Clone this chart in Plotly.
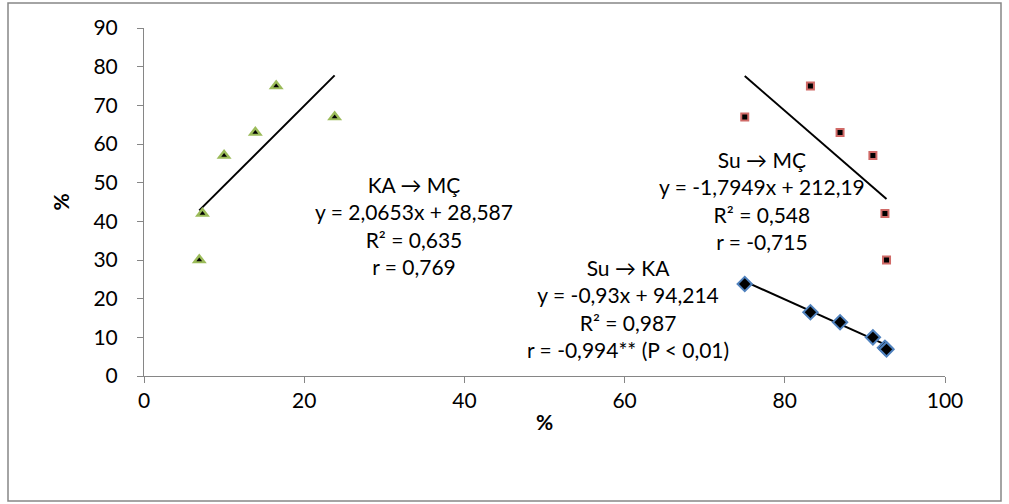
import plotly.graph_objects as go

# Data
su = [75.0, 83.2, 86.9, 91.0, 92.5, 92.7]      # Su (%)
ka = [23.8, 16.5, 13.9, 10.0, 7.3, 6.9]        # KA (%)
mc = [67, 75, 63, 57, 42, 30]                  # MÇ (%)

# Trendline coefficients (from the chart's equations)
fit_ka_mc = (2.0653, 28.587)
fit_su_mc = (-1.7949, 212.19)
fit_su_ka = (-0.93, 94.214)

x_ticks = [0, 20, 40, 60, 80, 100]
y_ticks = [0, 10, 20, 30, 40, 50, 60, 70, 80, 90]

labels = {
    "ka_mc": "KA \u2192 MÇ<br>y = 2,0653x + 28,587<br>R² = 0,635<br>r = 0,769",
    "su_mc": "Su \u2192 MÇ<br>y = -1,7949x + 212,19<br>R² = 0,548<br>r = -0,715",
    "su_ka": "Su \u2192 KA<br>y = -0,93x + 94,214<br>R² = 0,987<br>r = -0,994** (P < 0,01)",
}

FONT = "Lato, 'Open Sans', sans-serif"
GRAY = "#868686"

def line_pts(xs, fit):
    a, b = fit
    x0, x1 = min(xs), max(xs)
    return [x0, x1], [a * x0 + b, a * x1 + b]

fig = go.Figure()

# Trendlines
for xs, fit in [(ka, fit_ka_mc), (su, fit_su_mc), (su, fit_su_ka)]:
    lx, ly = line_pts(xs, fit)
    fig.add_trace(go.Scatter(x=lx, y=ly, mode="lines",
                             line=dict(color="black", width=2),
                             showlegend=False, hoverinfo="skip"))

# KA -> MÇ (green triangles)
fig.add_trace(go.Scatter(x=ka, y=mc, mode="markers", showlegend=False,
                         marker=dict(symbol="triangle-up", size=13, color="#9BBB59",
                                     line=dict(width=0))))
fig.add_trace(go.Scatter(x=ka, y=mc, mode="markers", showlegend=False,
                         marker=dict(symbol="triangle-up", size=5, color="black",
                                     line=dict(width=0))))
# Su -> MÇ (red squares)
fig.add_trace(go.Scatter(x=su, y=mc, mode="markers", showlegend=False,
                         marker=dict(symbol="square", size=7, color="black",
                                     line=dict(width=2, color="#D06A67"))))
# Su -> KA (blue diamonds)
fig.add_trace(go.Scatter(x=su, y=ka, mode="markers", showlegend=False,
                         marker=dict(symbol="diamond", size=11, color="black",
                                     line=dict(width=2, color="#4F81BD"))))

# Annotations
fig.add_annotation(x=33.7, y=39.0, text=labels["ka_mc"], showarrow=False,
                   font=dict(family=FONT, size=21, color="black"), align="center")
fig.add_annotation(x=77.1, y=45.5, text=labels["su_mc"], showarrow=False,
                   font=dict(family=FONT, size=21, color="black"), align="center")
fig.add_annotation(x=60.4, y=17.5, text=labels["su_ka"], showarrow=False,
                   font=dict(family=FONT, size=21, color="black"), align="center")

# Outer chart frame
L, R, T, B = 144, 64, 28, 128
W, H = 1009, 504
pw, ph = W - L - R, H - T - B
fig.add_shape(type="rect", xref="paper", yref="paper",
              x0=(8 - L) / pw, x1=(1001 - L) / pw,
              y0=((H - B) - 501) / ph, y1=((H - B) - 3) / ph,
              line=dict(color=GRAY, width=1.5), fillcolor="rgba(0,0,0,0)", layer="below")

fig.update_layout(
    width=W, height=H,
    margin=dict(l=L, r=R, t=T, b=B, autoexpand=False),
    paper_bgcolor="white", plot_bgcolor="white",
    font=dict(family=FONT, size=21, color="black"),
    xaxis=dict(range=[0, 100], tickvals=x_ticks, showgrid=False, zeroline=False,
               showline=True, linecolor=GRAY, linewidth=1, ticks="outside",
               ticklen=6, tickcolor=GRAY, tickfont=dict(size=21),
               ticklabelstandoff=0,
               title=dict(text="<b>%</b>", font=dict(size=21), standoff=4)),
    yaxis=dict(range=[0, 90], tickvals=y_ticks, showgrid=False, zeroline=False,
               showline=True, linecolor=GRAY, linewidth=1, ticks="outside",
               ticklen=6, tickcolor=GRAY, tickfont=dict(size=21),
               ticklabelstandoff=15,
               title=dict(text="<b>%</b>", font=dict(size=21), standoff=18)),
)

fig.write_html("out.html", config={"displayModeBar": False},
               post_script="document.body.style.margin='0';document.body.style.overflow='hidden';")
